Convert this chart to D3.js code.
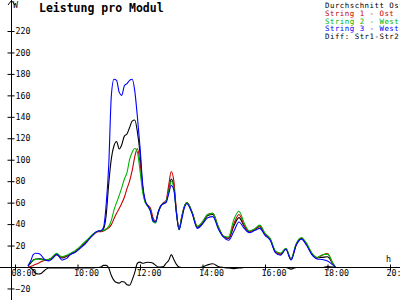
<!DOCTYPE html>
<html>
<head>
<meta charset="utf-8">
<script src="https://cdn.jsdelivr.net/npm/d3@7"></script>
<style>
  body { margin: 0; background: #fff; }
  svg { display: block; }
  text { font-family: "DejaVu Sans Mono", monospace; }
</style>
</head>
<body>
<div id="chart"></div>
<script>
const times = [
  "08:25","08:30","08:35","08:40","08:45","08:50","08:55","09:00","09:05","09:10","09:15","09:20",
  "09:25","09:30","09:35","09:40","09:45","09:50","09:55","10:00","10:05","10:10","10:15","10:20",
  "10:25","10:30","10:35","10:40","10:45","10:50","10:55","11:00","11:05","11:10","11:15","11:20",
  "11:25","11:30","11:35","11:40","11:45","11:50","11:55","12:00","12:05","12:10","12:15","12:20",
  "12:25","12:30","12:35","12:40","12:45","12:50","12:55","13:00","13:05","13:10","13:15","13:20",
  "13:25","13:30","13:40","13:50","14:00","14:10","14:20","14:30","14:40","14:50","15:00","15:10",
  "15:20","15:30","15:40","15:50","16:00","16:10","16:20","16:30","16:40","16:50","17:00","17:10",
  "17:20","17:30","17:40","17:50","18:00","18:10","18:15"
];
const avgValues = [
  1, 3.5, 6.5, 7.5, 7.7, 7.6, 6.8, 6.4, 6.6, 8, 10.2, 11.9,
  10.2, 8.4, 9, 10, 11.6, 13, 14.2, 16.1, 18.3, 20.7, 22.8, 25.3,
  27.9, 30.3, 32.3, 33.3, 33.5, 35.5, 48, 78, 101, 113, 117, 110,
  114, 122, 124, 130, 136, 137, 126, 106, 75, 61, 57, 53,
  44, 42, 51, 57, 59.5, 61, 71, 82, 75, 51, 35, 46,
  56, 60, 51, 37, 41, 48, 49, 37, 28.5, 26.5, 38, 46,
  38, 33, 35, 37.5, 30.5, 26, 14, 12, 17, 7, 21, 26.5,
  21, 12, 8.5, 9, 9.5, 3, 0
];
const string1Values = [
  0, 0.5, 1.5, 2.5, 3.5, 4.8, 5.8, 6.6, 7.3, 8.3, 10.2, 11.2,
  10, 9, 9.6, 10.4, 11.6, 12.8, 14, 16, 18.4, 21, 23, 25.5,
  27.7, 30, 32, 33, 33, 33.5, 35, 36.5, 39.5, 45, 50, 54.5,
  59.5, 65, 73, 80, 90, 103, 110.5, 97, 75, 61, 57.5, 55,
  46, 43, 51, 57, 60, 62, 76, 89, 80, 52, 35, 47,
  56, 60, 51, 38, 42, 49, 50, 38, 29, 27, 40, 49,
  39, 33, 35, 38.5, 31, 26, 14, 12, 17, 7, 21, 26.5,
  21, 12.5, 8.5, 11, 12.5, 3.5, 0
];
const string2Values = [
  1.5, 4.5, 6, 7.2, 7.2, 7, 6.5, 6.7, 7, 8.5, 11, 12.8,
  11, 9.6, 10.2, 11.2, 12.3, 13.8, 15, 17, 19, 21.5, 23.8, 26,
  28.5, 30.8, 32.5, 33.5, 33.8, 34, 35.5, 38, 43.5, 53, 60, 66.5,
  74, 82, 88, 100, 107, 110.5, 107, 90, 70, 60, 56.5, 53,
  42, 41, 51, 57, 59, 61, 70, 80, 74, 50, 34.5, 46,
  56, 60, 51, 38, 42, 49, 50, 38, 29, 28, 44, 52,
  41, 33.5, 35.5, 39, 31.5, 26.5, 15, 13, 17.5, 8, 22, 27.5,
  22, 13, 9, 11.5, 12, 4, 0
];
const string3Values = [
  1, 5.5, 11.5, 12.8, 12.5, 11, 8, 6, 5.7, 7, 9.5, 11.8,
  9.5, 6.5, 7.2, 8.3, 11, 12.5, 13.5, 15.3, 17.5, 19.5, 21.6, 24.5,
  27.5, 30, 32.5, 33.5, 33.8, 37, 58, 95, 160, 175, 174, 163,
  160, 169, 171, 174, 175, 164, 140, 112, 78, 62, 57, 52,
  43, 42, 51, 57, 59, 60, 68, 76, 72, 50, 35, 44,
  55, 59, 50, 36, 40, 46, 47, 36, 28, 25, 33, 42,
  36, 32, 34, 36, 29.5, 25, 13.5, 11, 16.5, 6.5, 20.5, 26,
  20, 11.5, 7.5, 7, 5.5, 2, 0
];
const diffValues = [
  0, -1, -3, -6, -6.5, -6, -4, -2, -1, -1, -1, -1,
  -1, -1, -1, -1, -1, -1, -1, -1, -1, -1, -1, -1,
  -1, -1, -0.5, -0.5, 0, 1.5, 1.5, -1, -8, -12.5, -14.5, -15,
  -13.5, -14, -16.5, -17, -12, -5, 3.5, 4.5, 3.5, 4, 4.4, 4.2,
  3.5, 1.5, 0, 0, 0.5, 3.5, 6, 11.5, 7, 2.5, 0, -0.5,
  -0.5, -0.5, -0.5, -0.5, 0, 2, 3, 0.5, -0.5, -1, -1.5, -1,
  -0.5, -0.5, -0.5, -0.5, -0.5, -0.5, -0.5, -0.5, -0.5, -2, -0.5, -0.5,
  -0.5, -0.5, -0.5, -0.5, 0.5, 0, 0
];
const seriesNames = ["Durchschnitt Ost", "String 1 - Ost", "String 2 - West", "String 3 - West", "Diff: Str1-Str2"];
const seriesColors = ["#000000", "#c80000", "#00b400", "#0000ff", "#000000"];
const yTicks = [-20, 20, 40, 60, 80, 100, 120, 140, 160, 180, 200, 220];
const xTicks = ["08:00", "10:00", "12:00", "14:00", "16:00", "18:00", "20:00"];

const parse = d3.timeParse("%H:%M");
const W = 400, H = 300;

const svg = d3.select("#chart").append("svg")
  .attr("width", W)
  .attr("height", H)
  .style("background", "#fff");

const x = d3.scaleTime()
  .domain([parse("08:00"), parse("20:00")])
  .range([15, 390]);
const y = d3.scaleLinear()
  .domain([0, 220])
  .range([267, 31]);

// title and unit
svg.append("text")
  .attr("x", 39).attr("y", 11.5)
  .attr("font-size", 11.5).attr("font-weight", "bold")
  .text("Leistung pro Modul");
svg.append("text")
  .attr("x", 13).attr("y", 8)
  .attr("font-size", 8.3)
  .text("W");

// y axis
const yAxis = svg.append("g")
  .attr("transform", "translate(11.5,0)")
  .call(d3.axisRight(y).tickValues(yTicks).tickFormat(d3.format("d")));
yAxis.select(".domain").remove();
yAxis.selectAll(".tick line").attr("x1", -4).attr("x2", 3).attr("stroke", "#000");
yAxis.selectAll(".tick text")
  .attr("x", 4)
  .attr("font-size", 8.3)
  .attr("font-family", "DejaVu Sans Mono")
  .attr("fill", "#000");
svg.append("line")
  .attr("x1", 11.5).attr("x2", 11.5).attr("y1", 0).attr("y2", H)
  .attr("stroke", "#000");
svg.append("path")
  .attr("d", "M8,5 L11.5,0.5 L15,5")
  .attr("fill", "none").attr("stroke", "#000");

// x axis
const xAxis = svg.append("g")
  .attr("transform", "translate(0,267.5)")
  .call(d3.axisBottom(x).tickValues(xTicks.map(parse)).tickFormat(d3.timeFormat("%H:%M")));
xAxis.select(".domain").remove();
xAxis.selectAll(".tick line").attr("y1", -3).attr("y2", 3).attr("stroke", "#000");
xAxis.selectAll(".tick text")
  .attr("y", 3)
  .attr("x", -4)
  .attr("text-anchor", "start")
  .attr("font-size", 8.3)
  .attr("font-family", "DejaVu Sans Mono")
  .attr("fill", "#000");
svg.append("line")
  .attr("x1", 0).attr("x2", W).attr("y1", 267.5).attr("y2", 267.5)
  .attr("stroke", "#000");
svg.append("text")
  .attr("x", 386).attr("y", 262)
  .attr("font-size", 8.3)
  .text("h");

// lines
const allSeries = [avgValues, string1Values, string2Values, string3Values, diffValues];
const line = d3.line()
  .x((d, i) => x(parse(times[i])))
  .y(d => y(d))
  .curve(d3.curveMonotoneX);

svg.append("g").selectAll("path")
  .data(allSeries)
  .enter().append("path")
  .attr("d", d => line(d))
  .attr("fill", "none")
  .attr("stroke", (d, i) => seriesColors[i])
  .attr("stroke-width", 1.1);

// legend
svg.append("g").selectAll("text")
  .data(seriesNames)
  .enter().append("text")
  .attr("x", 325)
  .attr("y", (d, i) => 8.3 + i * 7.7)
  .attr("font-size", 7.4)
  .attr("letter-spacing", 0.5)
  .attr("fill", (d, i) => seriesColors[i])
  .text(d => d);
</script>
</body>
</html>
